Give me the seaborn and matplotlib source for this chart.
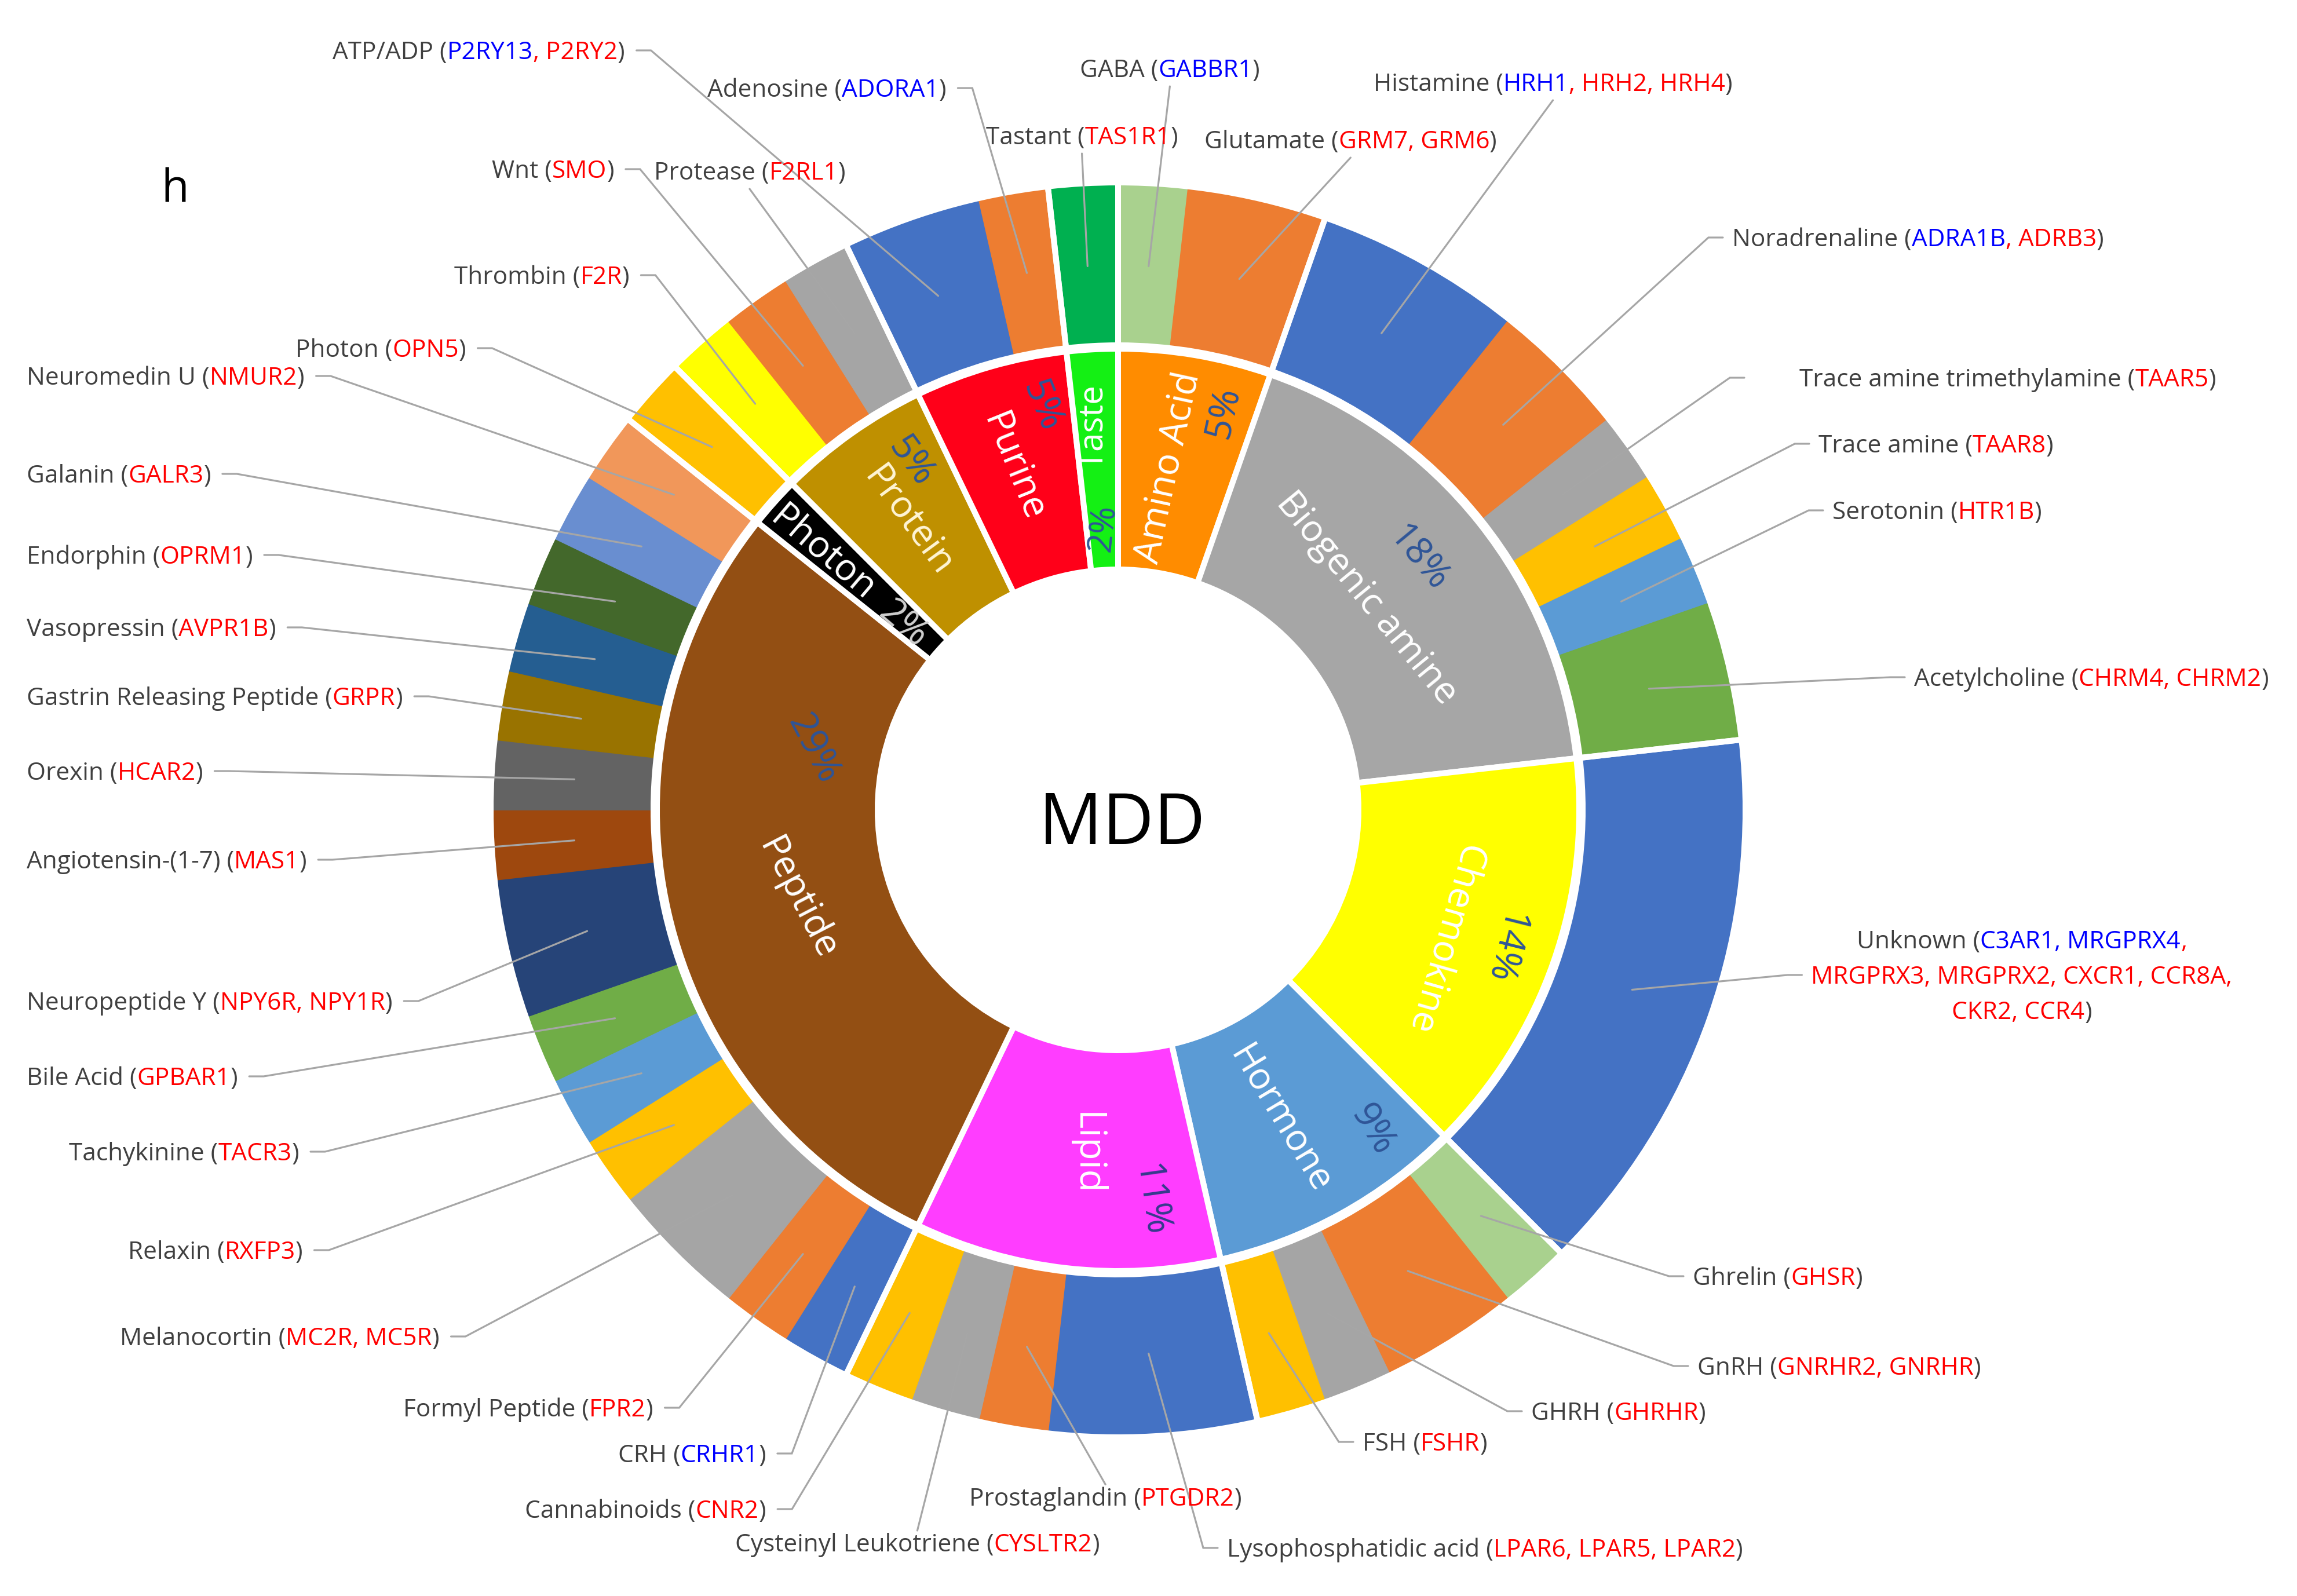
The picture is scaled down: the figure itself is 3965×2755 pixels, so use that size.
import numpy as np
import matplotlib
matplotlib.use("Agg")
import matplotlib.pyplot as plt
import seaborn as sns

# ------------------------------------------------------------------ data
categories = ["Amino Acid", "Biogenic amine", "Chemokine", "Hormone", "Lipid",
              "Peptide", "Photon", "Protein", "Purine", "Taste"]
category_colors = ["#FF8C00", "#A6A6A6", "#FFFF00", "#5B9BD5", "#FF3DFF",
                   "#934F13", "#000000", "#BF9000", "#FF0019", "#14F014"]

ligands = ["GABA", "Glutamate", "Histamine", "Noradrenaline",
           "Trace amine trimethylamine", "Trace amine", "Serotonin", "Acetylcholine",
           "Unknown", "Ghrelin", "GnRH", "GHRH", "FSH",
           "Lysophosphatidic acid", "Prostaglandin", "Cysteinyl Leukotriene", "Cannabinoids",
           "CRH", "Formyl Peptide", "Melanocortin", "Relaxin", "Tachykinine", "Bile Acid",
           "Neuropeptide Y", "Angiotensin-(1-7)", "Orexin", "Gastrin Releasing Peptide",
           "Vasopressin", "Endorphin", "Galanin", "Neuromedin U",
           "Photon", "Thrombin", "Wnt", "Protease", "ATP/ADP", "Adenosine", "Tastant"]
ligand_category = ["Amino Acid", "Amino Acid"] + ["Biogenic amine"] * 6 + ["Chemokine"] + \
                  ["Hormone"] * 4 + ["Lipid"] * 4 + ["Peptide"] * 14 + ["Photon"] + \
                  ["Protein"] * 3 + ["Purine"] * 2 + ["Taste"]
receptors = [["GABBR1"], ["GRM7", "GRM6"], ["HRH1", "HRH2", "HRH4"], ["ADRA1B", "ADRB3"],
             ["TAAR5"], ["TAAR8"], ["HTR1B"], ["CHRM4", "CHRM2"],
             ["C3AR1", "MRGPRX4", "MRGPRX3", "MRGPRX2", "CXCR1", "CCR8A", "CKR2", "CCR4"],
             ["GHSR"], ["GNRHR2", "GNRHR"], ["GHRHR"], ["FSHR"],
             ["LPAR6", "LPAR5", "LPAR2"], ["PTGDR2"], ["CYSLTR2"], ["CNR2"],
             ["CRHR1"], ["FPR2"], ["MC2R", "MC5R"], ["RXFP3"], ["TACR3"], ["GPBAR1"],
             ["NPY6R", "NPY1R"], ["MAS1"], ["HCAR2"], ["GRPR"], ["AVPR1B"], ["OPRM1"],
             ["GALR3"], ["NMUR2"], ["OPN5"], ["F2R"], ["SMO"], ["F2RL1"],
             ["P2RY13", "P2RY2"], ["ADORA1"], ["TAS1R1"]]
# 'b' = blue receptor, 'r' = red receptor
receptor_flags = [["b"], ["r", "r"], ["b", "r", "r"], ["b", "r"], ["r"], ["r"], ["r"], ["r", "r"],
                  ["b", "b", "r", "r", "r", "r", "r", "r"],
                  ["r"], ["r", "r"], ["r"], ["r"], ["r", "r", "r"], ["r"], ["r"], ["r"],
                  ["b"], ["r"], ["r", "r"], ["r"], ["r"], ["r"], ["r", "r"], ["r"], ["r"], ["r"],
                  ["r"], ["r"], ["r"], ["r"], ["r"], ["r"], ["r"], ["r"], ["b", "r"], ["b"], ["r"]]
ligand_colors = ["#A9D18E", "#ED7D31", "#4472C4", "#ED7D31", "#A5A5A5", "#FFC000", "#5B9BD5",
                 "#70AD47", "#4472C4", "#A9D18E", "#ED7D31", "#A5A5A5", "#FFC000",
                 "#4472C4", "#ED7D31", "#A5A5A5", "#FFC000",
                 "#4472C4", "#ED7D31", "#A5A5A5", "#FFC000", "#5B9BD5", "#70AD47",
                 "#264478", "#9E480E", "#636363", "#997300", "#255E91", "#43682B",
                 "#698ED0", "#F1975A", "#FFC000", "#FFFF00", "#ED7D31", "#A5A5A5",
                 "#4472C4", "#ED7D31", "#00B050"]

# ------------------------------------------------------------------ layout (pixel positions)
W, H = 3966, 2755
CX, CY_IMG = 1930, 1398
LABEL_FS = 30.5
INNER_FS = 46
FONT = "Open Sans"
GRAY, RED, BLUE = "#404040", "#FF0000", "#0000FF"
LINE_COLOR = "#A6A6A6"

# x, y (image coords, y = text middle), leader style, extra gap
label_layout = {
    "GABA": (1864, 118, "B"), "Glutamate": (2079, 241, "B"), "Histamine": (2371, 142, "B"),
    "Noradrenaline": (2990, 410, "R"), "Trace amine trimethylamine": (3106, 652, "R", 95),
    "Trace amine": (3139, 766, "R"), "Serotonin": (3163, 881, "R"),
    "Acetylcholine": (3304, 1169, "R"), "Unknown": (3490, 1622, "U"),
    "Ghrelin": (2922, 2203, "R"), "GnRH": (2930, 2358, "R"), "GHRH": (2643, 2436, "R"),
    "FSH": (2352, 2489, "R"), "Lysophosphatidic acid": (2118, 2672, "R"),
    "Prostaglandin": (1673, 2584, "T"), "Cysteinyl Leukotriene": (1269, 2663, "T"),
    "Cannabinoids": (906, 2605, "L"), "CRH": (1067, 2509, "L"),
    "Formyl Peptide": (696, 2430, "L"), "Melanocortin": (207, 2307, "L"),
    "Relaxin": (221, 2158, "L"), "Tachykinine": (119, 1988, "L"), "Bile Acid": (46, 1858, "L"),
    "Neuropeptide Y": (46, 1728, "L"), "Angiotensin-(1-7)": (46, 1484, "L"),
    "Orexin": (46, 1331, "L"), "Gastrin Releasing Peptide": (46, 1202, "L"),
    "Vasopressin": (46, 1083, "L"), "Endorphin": (46, 958, "L"), "Galanin": (46, 818, "L"),
    "Neuromedin U": (46, 649, "L"), "Photon": (510, 601, "L"), "Thrombin": (784, 475, "L"),
    "Wnt": (849, 292, "L"), "Protease": (1129, 295, "B"), "ATP/ADP": (574, 87, "L"),
    "Adenosine": (1221, 152, "L"), "Tastant": (1702, 234, "B"),
}
unknown_breaks = (2, 6)
unknown_line_gap = 61

inner_layout = {
    "Amino Acid": ((2017, 807, 77.7), (2112, 712, 77.7), "#FFFFFF", INNER_FS),
    "Biogenic amine": ((2359, 1033, -50.5), (2448, 964, -50.5), "#FFFFFF", INNER_FS),
    "Chemokine": ((2493, 1621, -106), (2596, 1635, -104), "#FFFFFF", INNER_FS),
    "Hormone": ((2210, 1933, -59), (2369, 1951, -59), "#FFFFFF", INNER_FS),
    "Lipid": ((1875, 1992, -90), (1985, 2072, -82), "#FFFFFF", INNER_FS),
    "Peptide": ((1376, 1552, -62.6), (1403, 1294, -62.6), "#FFFFFF", INNER_FS),
    "Photon": ((1420, 956, -40.4), (1559, 1079, -40.4), "#FFFFFF", INNER_FS),
    "Protein": ((1568, 900, -53.8), (1572, 798, -53.8), "#FFF5D6", INNER_FS),
    "Purine": ((1750, 807, -68), (1798, 702, -68), "#FFFFFF", INNER_FS),
    "Taste": ((1888, 737, 90), (1905, 912, 84), "#FFFFFF", 42),
}
pct_colors = {"Photon": "#D0D0D0", "Lipid": "#353A8C"}

# ------------------------------------------------------------------ figure
sns.set_theme(style="white")
plt.rcParams["font.family"] = [FONT, "DejaVu Sans"]

fig = plt.figure(figsize=(W / 100, H / 100), dpi=100)
fig.patch.set_facecolor("white")
ax = fig.add_axes([0, 0, 1, 1])
CY = H - CY_IMG

outer_counts = [len(r) for r in receptors]
inner_counts = [sum(len(r) for r, c in zip(receptors, ligand_category) if c == cat)
                for cat in categories]
total = sum(outer_counts)

R_OUT, R_MID, R_IN, R_HOLE = 1083, 802, 796, 415
SEP = 7.2  # white separators (points)

outer_wedges, _ = ax.pie(outer_counts, radius=R_OUT, center=(CX, CY), startangle=90,
                         counterclock=False, colors=sns.color_palette(ligand_colors),
                         wedgeprops=dict(width=R_OUT - R_MID, linewidth=1.2))
for w in outer_wedges:
    w.set_edgecolor(w.get_facecolor())
ax.pie(inner_counts, radius=R_OUT, center=(CX, CY), startangle=90, counterclock=False,
       colors=["none"] * len(categories),
       wedgeprops=dict(width=R_OUT - R_MID, linewidth=SEP, edgecolor="white"))
inner_wedges, _ = ax.pie(inner_counts, radius=R_IN, center=(CX, CY), startangle=90,
                         counterclock=False, colors=sns.color_palette(category_colors),
                         wedgeprops=dict(width=R_IN - R_HOLE, linewidth=SEP, edgecolor="white"))

ax.set_xlim(0, W)
ax.set_ylim(0, H)
ax.set_aspect("auto")
ax.axis("off")

# inner labels
for cat, cnt in zip(categories, inner_counts):
    (nx, ny, nr), (px, py, pr), col, fs = inner_layout[cat]
    ax.text(nx, H - ny, cat, rotation=nr, rotation_mode="anchor", ha="center", va="center",
            fontsize=fs, color=col, family=FONT, zorder=6)
    ax.text(px, H - py, f"{round(100 * cnt / total)}%", rotation=pr, rotation_mode="anchor",
            ha="center", va="center", fontsize=fs, color=pct_colors.get(cat, "#2F5597"),
            family=FONT, zorder=6)

ax.text(1937, H - 1457, "MDD", ha="center", va="baseline", fontsize=88, color="black",
        family=FONT, zorder=6)
ax.text(278, H - 349, "h", ha="left", va="baseline", fontsize=56, color="black",
        family=FONT, zorder=6)


# ------------------------------------------------------------------ outer labels
def label_lines(name, recs, flags, breaks=()):
    lines = [[(name + " (", GRAY)]]
    for j, (r, f) in enumerate(zip(recs, flags)):
        col = BLUE if f == "b" else RED
        if j == 0:
            lines[-1].append((r, col))
        elif j in breaks:
            lines[-1].append((",", col))
            lines.append([(r, col)])
        else:
            lines[-1].append((", " + r, col))
    lines[-1].append((")", GRAY))
    out = []
    for ln in lines:
        merged = []
        for s, c in ln:
            if merged and merged[-1][1] == c:
                merged[-1] = (merged[-1][0] + s, c)
            else:
                merged.append((s, c))
        out.append(merged)
    return out


BASE_OFF = 15  # from text middle to baseline (px)


def rainbow(x, y_mid_img, pieces):
    yb = H - (y_mid_img + BASE_OFF)
    arts = [ax.text(x, yb, pieces[0][0], color=pieces[0][1], fontsize=LABEL_FS,
                    family=FONT, ha="left", va="baseline", zorder=6)]
    for s, c in pieces[1:]:
        arts.append(ax.annotate(s, xy=(1, yb), xycoords=(arts[-1], "data"), ha="left",
                                va="baseline", color=c, fontsize=LABEL_FS, family=FONT,
                                zorder=6))
    return arts


label_arts = {}
for lig, recs, flags in zip(ligands, receptors, receptor_flags):
    lay = label_layout[lig]
    x, y, style = lay[0], lay[1], lay[2]
    if style == "U":
        lines = label_lines(lig, recs, flags, unknown_breaks)
        label_arts[lig] = [rainbow(x, y + k * unknown_line_gap, ln) for k, ln in enumerate(lines)]
    else:
        lines = label_lines(lig, recs, flags)
        label_arts[lig] = [rainbow(x, y, lines[0])]

fig.canvas.draw()
renderer = fig.canvas.get_renderer()
inv = ax.transData.inverted()


def extent(arts):
    bbs = [a.get_window_extent(renderer) for a in arts]
    x0 = min(b.x0 for b in bbs); x1 = max(b.x1 for b in bbs)
    y0 = min(b.y0 for b in bbs); y1 = max(b.y1 for b in bbs)
    (dx0, dy0), (dx1, dy1) = inv.transform([(x0, y0), (x1, y1)])
    return dx0, dx1, dy0, dy1


# centre the multi-line label
for lig, lay in label_layout.items():
    if lay[2] == "U":
        for arts in label_arts[lig]:
            x0, x1, _, _ = extent(arts)
            arts[0].set_x(lay[0] - (x1 - x0) / 2)
fig.canvas.draw()

R_POINT = 940
for lig, w in zip(ligands, outer_wedges):
    mid = np.radians((w.theta1 + w.theta2) / 2)
    wx, wy = CX + R_POINT * np.cos(mid), CY + R_POINT * np.sin(mid)
    lay = label_layout[lig]
    style = lay[2]
    yc = H - lay[1]
    stub = 25
    if style == "U":
        arts = label_arts[lig][1]
        yc = H - (lay[1] + unknown_line_gap)
        x0, x1, y0, y1 = extent(arts)
        xs = [x0 - 16, x0 - 16 - stub, wx]; ys = [yc, yc, wy]
    else:
        arts = label_arts[lig][0]
        x0, x1, y0, y1 = extent(arts)
        if style == "L":
            g = 20
            xs = [x1 + g, x1 + g + stub, wx]; ys = [yc, yc, wy]
        elif style == "R":
            g = lay[3] if len(lay) > 3 else 16
            xs = [x0 - g, x0 - g - stub, wx]; ys = [yc, yc, wy]
        elif style == "B":
            xc = (x0 + x1) / 2
            xs = [xc, wx]; ys = [y0 - 6, wy]
        else:  # "T"
            xc = (x0 + x1) / 2
            xs = [xc, wx]; ys = [y1 + 4, wy]
    ax.plot(xs, ys, color=LINE_COLOR, lw=2.3, solid_joinstyle="miter", zorder=5)

fig.savefig("out.png", dpi=100, facecolor="white")
